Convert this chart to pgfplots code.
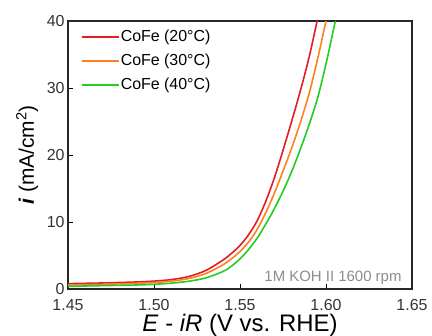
\documentclass[border=0pt]{standalone}
\usepackage{fontspec}
\setmainfont{Liberation Sans}
\usepackage{pgfplots}
\pgfplotsset{compat=1.18}
\definecolor{cred}{RGB}{228,28,36}
\definecolor{corange}{RGB}{255,128,32}
\definecolor{cgreen}{RGB}{36,204,36}
\begin{document}
\begin{tikzpicture}
\begin{axis}[
 at={(68bp,47bp)}, anchor=south west,
 scale only axis, width=344bp, height=268bp,
 clip mode=individual,
 xmin=1.45, xmax=1.65, ymin=0, ymax=40,
 xtick={1.45,1.5,1.55,1.6,1.65}, ytick={0,10,20,30,40},
 xtick pos=bottom, ytick pos=left, tick align=inside,
 major tick length=5bp, tick style={line width=1bp, black},
 axis line style={line width=1.6bp, black!85},
 /pgf/number format/assume math mode=true,
 xticklabel style={/pgf/number format/.cd, fixed, fixed zerofill, precision=2, /tikz/.cd, font=\fontsize{16}{16}\selectfont, text=black!80, anchor=base, yshift=-21bp},
 yticklabel style={font=\fontsize{16}{16}\selectfont, text=black!80},
 xlabel={\textit{E} - \textit{iR} (V vs. RHE)},
 xlabel style={at={(axis description cs:0.5,0)}, anchor=base, yshift=-42bp, font=\fontsize{24}{24}\selectfont},
 legend style={at={(axis description cs:0,1)}, anchor=north west, xshift=10bp, yshift=-6bp, draw=none, fill=none, font=\fontsize{16}{16}\selectfont, row sep=9bp, nodes={inner sep=1bp}},
 legend cell align=left,
 /tikz/every even column/.append style={column sep=3bp},
 legend image code/.code={\draw[#1] (0bp,0bp) -- (37bp,0bp);},
]
\addplot[cred, line width=1.6bp, smooth] coordinates {
(1.45,0.8) (1.47,0.9) (1.49,1.05) (1.50,1.18) (1.51,1.4) (1.52,1.85) (1.53,2.75) (1.54,4.3) (1.545,5.3) (1.55,6.5) (1.555,8.1) (1.56,10.2) (1.565,13.1) (1.57,16.6) (1.575,20.7) (1.58,25.0) (1.585,29.5) (1.59,34.4) (1.595,40.2)};
\addlegendentry{CoFe (20°C)}
\addplot[corange, line width=1.6bp, smooth] coordinates {
(1.45,0.6) (1.47,0.7) (1.49,0.85) (1.50,0.97) (1.51,1.18) (1.52,1.55) (1.53,2.3) (1.54,3.6) (1.545,4.5) (1.55,5.6) (1.555,7.0) (1.56,8.9) (1.565,11.4) (1.57,14.3) (1.575,17.6) (1.58,21.0) (1.585,24.8) (1.59,29.0) (1.595,34.2) (1.60,40.0) (1.6005,40.6)};
\addlegendentry{CoFe (30°C)}
\addplot[cgreen, line width=1.6bp, smooth] coordinates {
(1.45,0.4) (1.47,0.5) (1.49,0.6) (1.50,0.7) (1.51,0.87) (1.52,1.15) (1.53,1.65) (1.54,2.6) (1.545,3.4) (1.55,4.5) (1.555,5.9) (1.56,7.6) (1.565,9.7) (1.57,12.0) (1.575,14.6) (1.58,17.5) (1.585,20.8) (1.59,24.4) (1.595,28.4) (1.60,33.6) (1.605,39.5) (1.6055,40.2)};
\addlegendentry{CoFe (40°C)}
\node[anchor=base east, text=black!45, font=\fontsize{15}{15}\selectfont] at (axis description cs:1,0) [xshift=-7bp, yshift=8bp] {1M KOH II 1600 rpm};
\node[rotate=90, anchor=center, font=\fontsize{21}{21}\selectfont] at (axis description cs:-0.119,0.5) {\textbf{\textit{i}} (mA/cm\textsuperscript{2})};
\end{axis}
\pgfresetboundingbox
\path (0bp,0bp) rectangle (432bp,336bp);
\end{tikzpicture}
\end{document}
